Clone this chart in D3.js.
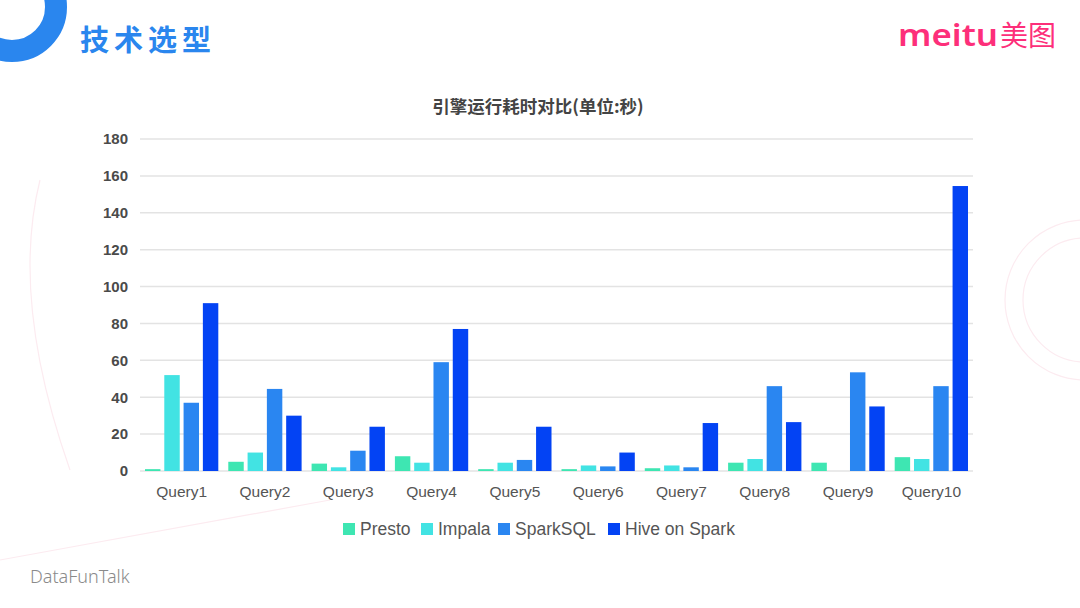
<html>
    <head>
        <style>
            body { margin: 0; background: #fff; }
            text { font-family: "Liberation Sans", Arial, sans-serif; }
            .grid line { stroke: #e3e3e3; stroke-width: 1.5; }
        </style>
        <script src="https://d3js.org/d3.v7.min.js" charset="utf-8"></script>
    </head>
    <body>
        <div id="viz"></div>
        <script>
            // data
            const queries  = ["Query1","Query2","Query3","Query4","Query5","Query6","Query7","Query8","Query9","Query10"];
            const engines  = ["Presto","Impala","SparkSQL","Hive on Spark"];
            const presto   = [1, 5, 4, 8, 1, 1, 1.5, 4.5, 4.5, 7.5];
            const impala   = [52, 10, 2, 4.5, 4.5, 3, 3, 6.5, 0, 6.5];
            const sparksql = [37, 44.5, 11, 59, 6, 2.5, 2, 46, 53.5, 46];
            const hive     = [91, 30, 24, 77, 24, 10, 26, 26.5, 35, 154.5];
            const yTicks   = [0, 20, 40, 60, 80, 100, 120, 140, 160, 180];
            const colors   = ["#3ee6b2", "#42e3e3", "#2a86f1", "#0343f4"];

            const series = [presto, impala, sparksql, hive];
            const table = queries.map((q, i) => ({ q, vals: series.map(s => s[i]) }));

            const width = 1080, height = 608;
            const margin = { top: 139, right: 107, bottom: 137, left: 140 };
            const plotW = width - margin.left - margin.right,
                  plotH = height - margin.top - margin.bottom;

            const svg = d3.select("#viz").append("svg").attr("width", width).attr("height", height);

            // faint background decoration
            const deco = svg.append("g").attr("fill", "none").attr("stroke", "#fcebf0").attr("stroke-width", 1.2);
            deco.append("circle").attr("cx", 1085).attr("cy", 300).attr("r", 80);
            deco.append("circle").attr("cx", 1085).attr("cy", 300).attr("r", 62);
            deco.append("path").attr("d", "M0 560 L330 500");
            deco.append("path").attr("d", "M40 180 Q10 300 70 470");

            // header ring + title
            svg.append("circle").attr("cx", 12).attr("cy", 7).attr("r", 44)
                .attr("fill", "none").attr("stroke", "#2a86ee").attr("stroke-width", 22);
            svg.append("text").attr("x", 80).attr("y", 51).text("技术选型")
                .style("font-family", "'Noto Sans CJK SC'").style("font-weight", "bold")
                .style("font-size", "29px").attr("fill", "#2a86ee").attr("letter-spacing", 5);

            // logo
            svg.append("text").attr("x", 898).attr("y", 46).text("meitu")
                .style("font-family", "'Noto Sans'").style("font-size", "30px").style("font-weight", "600")
                .attr("fill", "#fd2f7a").attr("textLength", 100).attr("lengthAdjust", "spacingAndGlyphs");
            svg.append("text").attr("x", 1000).attr("y", 46).text("美图")
                .style("font-family", "'Noto Sans CJK SC'").style("font-size", "28px")
                .attr("fill", "#fd2f7a");

            // footer
            svg.append("text").attr("x", 30).attr("y", 583).text("DataFunTalk")
                .style("font-family", "'Noto Sans'").style("font-size", "18px").style("font-weight", "300")
                .attr("fill", "#8a8a8a");

            // chart title
            svg.append("text").attr("x", 538).attr("y", 113).attr("text-anchor", "middle")
                .text("引擎运行耗时对比(单位:秒)")
                .style("font-family", "'Noto Sans CJK SC'").style("font-weight", "bold")
                .style("font-size", "17.5px").attr("fill", "#444");

            const g = svg.append("g").attr("transform", `translate(${margin.left},${margin.top})`);

            const x0 = d3.scaleBand().domain(queries).range([0, plotW]).paddingInner(0.12).paddingOuter(0.06);
            const x1 = d3.scaleBand().domain(d3.range(engines.length)).range([0, x0.bandwidth()]).paddingInner(0.2);
            const y  = d3.scaleLinear().domain([0, 180]).range([plotH, 0]);

            // grid
            g.append("g").attr("class", "grid")
                .selectAll("line").data(yTicks).join("line")
                .attr("x1", 0).attr("x2", plotW)
                .attr("y1", d => y(d)).attr("y2", d => y(d));

            // y axis labels
            const yAxis = g.append("g").call(d3.axisLeft(y).tickValues(yTicks).tickSize(0).tickPadding(12));
            yAxis.select(".domain").remove();
            yAxis.selectAll("text").style("font-size", "15px").style("font-weight", "bold").attr("fill", "#4a4a4a");

            // x axis labels
            const xAxis = g.append("g").attr("transform", `translate(0,${plotH})`)
                .call(d3.axisBottom(x0).tickSize(0).tickPadding(15));
            xAxis.select(".domain").remove();
            xAxis.selectAll("text").style("font-size", "15.5px").attr("fill", "#555");

            // bars
            g.selectAll(".grp").data(table).join("g")
                .attr("class", "grp")
                .attr("transform", d => `translate(${x0(d.q)},0)`)
                .selectAll("rect").data(d => d.vals).join("rect")
                .attr("x", (d, i) => x1(i))
                .attr("width", x1.bandwidth())
                .attr("y", d => y(d))
                .attr("height", d => plotH - y(d))
                .attr("fill", (d, i) => colors[i]);

            // legend
            const legendX = [343, 421, 498, 608];
            const lg = svg.append("g").attr("transform", "translate(0,529)");
            const item = lg.selectAll("g").data(engines).join("g")
                .attr("transform", (d, i) => `translate(${legendX[i]},0)`);
            item.append("rect").attr("x", 0).attr("y", -6).attr("width", 12).attr("height", 12)
                .attr("fill", (d, i) => colors[i]);
            item.append("text").attr("x", 17).attr("y", 6).text(d => d)
                .style("font-size", "17.5px").attr("fill", "#555");
        </script>
    </body>
</html>
